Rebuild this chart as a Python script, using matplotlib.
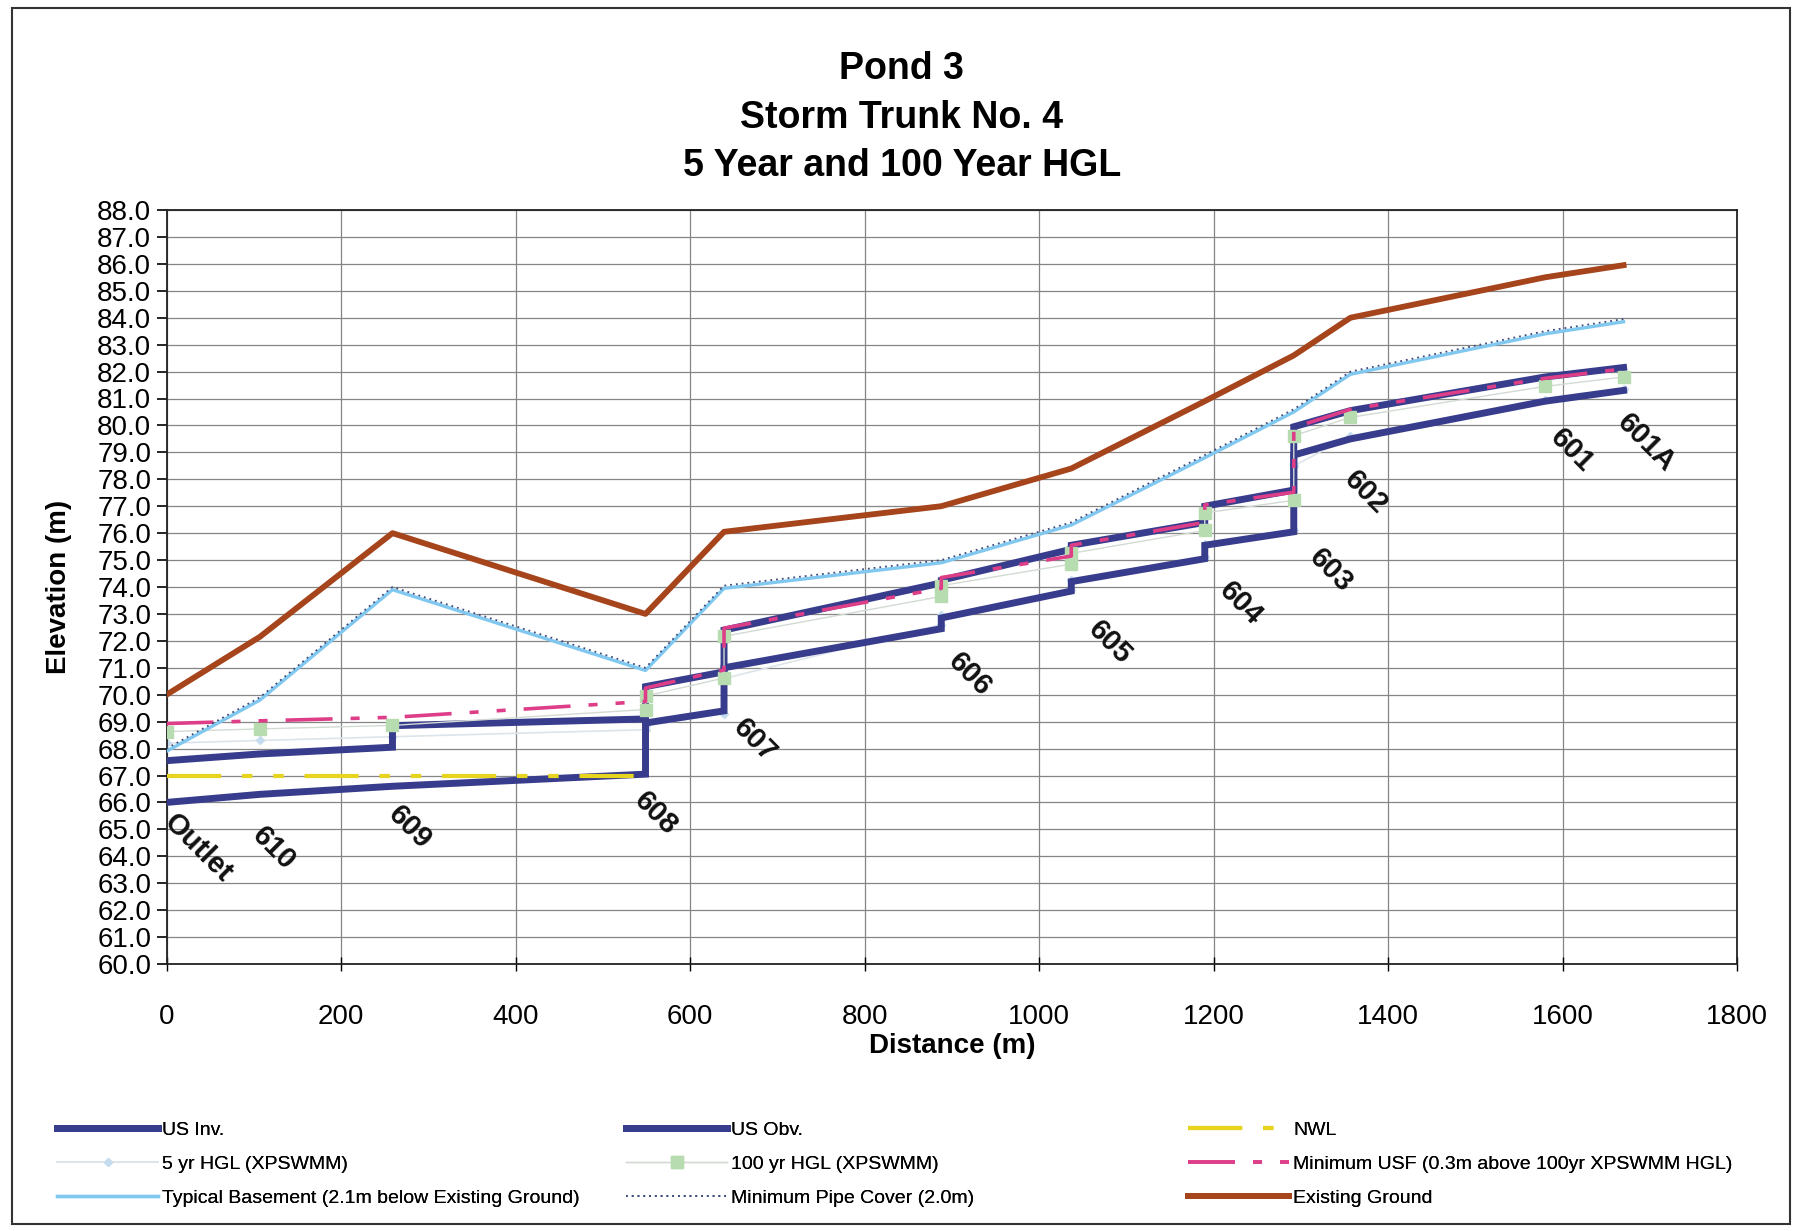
import matplotlib
matplotlib.use('Agg')
import matplotlib.pyplot as plt
from matplotlib.patches import Rectangle
import numpy as np

plt.rcParams['font.family'] = ['Liberation Sans', 'DejaVu Sans']

# manholes / labels
stations = ['Outlet', '610', '609', '608', '607', '606', '605', '604', '603', '602', '601', '601A']
label_x = [36, 123, 279, 561, 674, 921, 1081, 1231, 1334, 1374, 1611, 1696]
label_y = [64.3, 64.3, 65.05, 65.6, 68.3, 70.75, 71.95, 73.4, 74.6, 77.5, 79.05, 79.35]

# existing ground and derived surfaces
ground_x = [0, 107, 259, 549, 639, 888, 1037, 1190, 1292, 1357, 1580, 1670]
ground_y = [70.0, 72.15, 76.0, 73.0, 76.05, 77.0, 78.4, 80.9, 82.6, 84.0, 85.5, 85.95]
basement_y = [67.9, 69.8, 73.9, 70.9, 73.95, 74.9, 76.3, 78.8, 80.5, 81.9, 83.4, 83.85]
cover_y = [68.0, 69.9, 74.0, 71.0, 74.05, 75.0, 76.4, 78.9, 80.6, 82.0, 83.5, 83.95]

# pipe invert / obvert
inv_x = [0, 107, 259, 549, 549, 639, 639, 888, 888, 1037, 1037, 1190, 1190, 1292, 1292, 1357, 1580, 1670]
inv_y = [66.0, 66.3, 66.6, 67.05, 68.95, 69.4, 71.0, 72.45, 72.85, 73.85, 74.2, 75.05, 75.55, 76.05, 78.9, 79.5, 80.9, 81.3]
obv_x = [0, 107, 259, 259, 549, 549, 639, 639, 888, 888, 1037, 1037, 1190, 1190, 1292, 1292, 1357, 1580, 1670]
obv_y = [67.55, 67.8, 68.05, 68.85, 69.1, 70.3, 70.85, 72.4, 74.15, 74.25, 75.4, 75.55, 76.4, 77.0, 77.6, 79.95, 80.55, 81.8, 82.15]

# hydraulic grade lines
hgl_x = [0, 107, 259, 549, 549, 639, 639, 888, 888, 1037, 1037, 1190, 1190, 1292, 1292, 1357, 1580, 1670]
hgl5_y = [68.2, 68.3, 68.44, 68.7, 68.85, 69.3, 70.6, 72.6, 72.95, 73.9, 74.25, 75.1, 75.6, 76.1, 78.5, 79.6, 80.95, 81.35]
hgl100_y = [68.63, 68.73, 68.86, 69.45, 69.95, 70.62, 72.17, 73.65, 74.05, 74.85, 75.25, 76.1, 76.75, 77.22, 79.62, 80.3, 81.45, 81.8]
usf_y = [68.93, 69.03, 69.16, 69.75, 70.25, 70.92, 72.47, 73.95, 74.35, 75.15, 75.55, 76.4, 77.05, 77.52, 79.92, 80.6, 81.75, 82.1]

nwl_x = [0, 549]
nwl_y = [67.0, 67.0]

navy = '#383C8C'
brown = '#A6441C'
ltblue = '#80C8F0'
yellow = '#E6D41E'
pink = '#DE3E88'
green = '#B6DCB0'

W, H = 1800, 1231
fig = plt.figure(figsize=(W / 100, H / 100), dpi=100)
fig.patch.set_facecolor('white')
L, R, T, B = 166.5, 1737, 210, 964
ax = fig.add_axes([L / W, 1 - B / H, (R - L) / W, (B - T) / H])

longdd = (0, (13, 5, 2.5, 5, 2.5, 5))

h5, = ax.plot(hgl_x, hgl5_y, color='#DCE4EA', lw=1.2, marker='D', ms=4,
              mfc='#C4DCEE', mec='#C4DCEE', zorder=2, label='5 yr HGL (XPSWMM)')
inv, = ax.plot(inv_x, inv_y, color=navy, lw=5, zorder=3, solid_joinstyle='miter',
               label='US Inv.')
obv, = ax.plot(obv_x, obv_y, color=navy, lw=5, zorder=3, solid_joinstyle='miter',
               label='US Obv.')
nwl, = ax.plot(nwl_x, nwl_y, color=yellow, lw=3, linestyle=longdd, zorder=4, label='NWL')
h100, = ax.plot(hgl_x, hgl100_y, color='#D2DAD2', lw=1.0, marker='s', ms=8,
                mfc=green, mec=green, zorder=4, label='100 yr HGL (XPSWMM)')
usf, = ax.plot(hgl_x, usf_y, color=pink, lw=2.6, linestyle=longdd, zorder=5,
               label='Minimum USF (0.3m above 100yr XPSWMM HGL)')
base, = ax.plot(ground_x, basement_y, color=ltblue, lw=2.4, zorder=5,
                label='Typical Basement (2.1m below Existing Ground)')
cover, = ax.plot(ground_x, cover_y, color='#3C4C7C', lw=1.3, linestyle=(0, (1, 2.2)),
                 zorder=6, label='Minimum Pipe Cover (2.0m)')
gnd, = ax.plot(ground_x, ground_y, color=brown, lw=4.2, zorder=7, label='Existing Ground')

for name, x, y in zip(stations, label_x, label_y):
    ax.text(x, y, name, rotation=-45, ha='center', va='center', fontsize=21,
            fontweight='bold', color='#111111', zorder=8)

ax.set_xlim(0, 1800)
ax.set_ylim(60, 88)
ax.set_xticks(np.arange(0, 1801, 200))
ax.set_yticks(np.arange(60, 88.1, 1))
ax.set_yticklabels(['%.1f' % v for v in np.arange(60, 88.1, 1)])
ax.grid(True, color='#858585', lw=0.9)
ax.set_axisbelow(True)
ax.tick_params(axis='y', direction='out', length=7, width=1.2, pad=4, labelsize=20)
ax.tick_params(axis='x', direction='inout', length=10, width=1.0, pad=24, labelsize=20)
for s in ax.spines.values():
    s.set_linewidth(1.3)
    s.set_color('#222222')

ax.set_ylabel('Elevation (m)', fontsize=20, fontweight='bold', labelpad=18)
ax.set_xlabel('Distance (m)', fontsize=20, fontweight='bold', labelpad=2)

fig.text(0.501, 1 - 69 / H, 'Pond 3', ha='center', va='center', fontsize=27, fontweight='bold')
fig.text(0.501, 1 - 118 / H, 'Storm Trunk No. 4', ha='center', va='center', fontsize=27, fontweight='bold')
fig.text(0.501, 1 - 166 / H, '5 Year and 100 Year HGL', ha='center', va='center', fontsize=27, fontweight='bold')

# legend in three columns
cols = [([inv, h5, base], 57), ([obv, h100, cover], 626), ([nwl, usf, gnd], 1188)]
for handles, x0 in cols:
    leg = fig.legend(handles=handles, labels=[h.get_label() for h in handles],
                     loc='upper left', bbox_to_anchor=(x0 / W, 1 - 1121 / H),
                     frameon=False, fontsize=14, handlelength=5.2, handletextpad=0.2,
                     labelspacing=0.85, borderpad=0, borderaxespad=0)
    fig.add_artist(leg)

fig.patches.append(Rectangle((12 / W, 1 - 1224 / H), (1790 - 12) / W, (1224 - 8) / H,
                             transform=fig.transFigure, fill=False, ec='#333333', lw=1.5))

plt.savefig('out.png', dpi=100)
plt.close()
